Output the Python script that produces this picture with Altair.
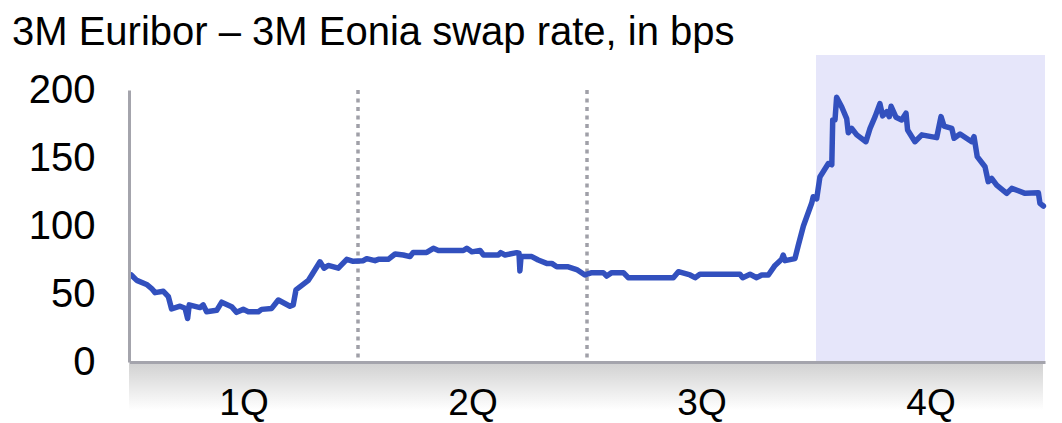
import altair as alt
import pandas as pd

# ---- data (x in quarters from start of year) ----
pos = [0.01, 0.034, 0.077, 0.099, 0.114, 0.150, 0.172, 0.186, 0.223, 0.245, 0.256, 0.263,
       0.310, 0.324, 0.339, 0.383, 0.405, 0.448, 0.470, 0.499, 0.521, 0.565, 0.579, 0.623,
       0.652, 0.703, 0.717, 0.729, 0.783, 0.798, 0.834, 0.852, 0.870, 0.914, 0.951, 0.979,
       1.023, 1.038, 1.074, 1.089, 1.132, 1.162, 1.198, 1.227, 1.241, 1.300, 1.329, 1.351,
       1.460, 1.475, 1.497, 1.533, 1.548, 1.613, 1.623, 1.642, 1.693, 1.703, 1.707, 1.712,
       1.759, 1.787, 1.824, 1.846, 1.868, 1.918, 1.955, 1.991, 2.021, 2.071, 2.086, 2.108,
       2.159, 2.180, 2.377, 2.399, 2.450, 2.472, 2.493, 2.668, 2.680, 2.712, 2.741, 2.763,
       2.792, 2.821, 2.850, 2.857, 2.865, 2.908, 2.923, 2.945, 2.981, 2.988, 3.003, 3.017,
       3.054, 3.069, 3.073, 3.083, 3.090, 3.112, 3.134, 3.141, 3.156, 3.178, 3.218, 3.236,
       3.258, 3.279, 3.291, 3.309, 3.320, 3.328, 3.349, 3.374, 3.393, 3.400, 3.432, 3.462,
       3.527, 3.546, 3.559, 3.593, 3.603, 3.629, 3.680, 3.690, 3.704, 3.738, 3.752, 3.767,
       3.789, 3.833, 3.855, 3.913, 3.971, 3.978, 3.993]
spread = [64, 60, 57, 54, 51, 52, 48, 39, 41, 39.5, 32, 42,
          40, 42, 37, 38, 44, 40.7, 36.5, 38.7, 37, 37, 38.7, 39.4,
          45.6, 41, 42, 53, 60, 64, 73.7, 69, 71, 69, 75.5, 74,
          74.5, 76, 74.5, 75.5, 75.5, 79.4, 78.7, 77.5, 80.6, 80.6, 83.6, 81.9,
          82, 83.6, 81, 82, 78.7, 78.7, 80.4, 78.7, 80.4, 80, 67, 77.5,
          77.5, 75, 72.5, 72.5, 70, 70, 68, 64, 65.7, 65.7, 63.2, 65.7,
          65.7, 62, 62, 66.4, 64, 62, 64.5, 64.5, 62, 64.5, 62, 64,
          64, 71, 75.5, 78.7, 74.5, 76, 86, 100, 116.7, 121.5, 120, 136,
          146, 145, 178, 178, 194.6, 187.7, 179, 168.6, 171.8, 167, 162, 171.8,
          180.4, 190, 181, 184, 180.4, 188, 180, 178, 183, 170.6, 162, 167,
          165, 180.4, 173.5, 171.8, 164.5, 167.6, 162, 165.7, 151, 143.6, 132.6, 135,
          130, 124, 127.7, 124, 124.5, 116.7, 114.7]

quarter_labels = ["1Q", "2Q", "3Q", "4Q"]
quarter_centers = [0.5, 1.5, 2.5, 3.5]
quarter_bounds = [1, 2]
shade_start = [3]
shade_end = [4]
y_ticks = [0, 50, 100, 150, 200]
title_text = "3M Euribor \u2013 3M Eonia swap rate, in bps"

W, H = 916, 272
FONT = "Liberation Sans"
AXIS_COLOR = "#A4A4AC"

label_expr = "datum.value == 0.5 ? '1Q' : datum.value == 1.5 ? '2Q' : datum.value == 2.5 ? '3Q' : '4Q'"

x_scale = alt.Scale(domain=[0, 4], nice=False, zero=False)
x_axis = alt.Axis(values=quarter_centers, labelExpr=label_expr, title=None, ticks=False,
                  grid=False, domainColor=AXIS_COLOR, domainWidth=3, labelFontSize=37,
                  labelFont=FONT, labelColor="#000000", labelPadding=23, zindex=1)
y_axis = alt.Axis(values=y_ticks, title=None, ticks=False, grid=False,
                  domainColor=AXIS_COLOR, domainWidth=3, labelFontSize=40, labelFont=FONT,
                  labelColor="#000000", labelPadding=34, zindex=1)

line_df = pd.DataFrame({"q": pos, "v": spread})
shade_df = pd.DataFrame({"q": shade_start, "q2": shade_end})
bounds_df = pd.DataFrame({"q": quarter_bounds})
one = pd.DataFrame({"a": [0]})

shade = alt.Chart(shade_df).mark_rect(color="#E6E6FA").encode(
    x=alt.X("q:Q", scale=x_scale, axis=x_axis),
    x2="q2:Q",
    y=alt.value(-35),
    y2=alt.value(H - 1),
)

band = alt.Chart(one).mark_rect(
    fill=alt.LinearGradient(
        gradient="linear",
        stops=[alt.GradientStop(color="#D2D2D2", offset=0),
               alt.GradientStop(color="#FFFFFF", offset=1)],
        x1=0, x2=0, y1=0, y2=1,
    )
).encode(x=alt.value(0), x2=alt.value(W - 2), y=alt.value(H + 2), y2=alt.value(H + 48))

rules = alt.Chart(bounds_df).mark_rule(color="#A0A0A8", strokeWidth=3.5,
                                       strokeDash=[4, 4.5]).encode(
    x=alt.X("q:Q", scale=x_scale, axis=x_axis),
    y=alt.value(0),
    y2=alt.value(H - 3),
)

line = alt.Chart(line_df).mark_line(color="#3250BE", strokeWidth=5.5,
                                    strokeJoin="round", strokeCap="round").encode(
    x=alt.X("q:Q", scale=x_scale, axis=x_axis),
    y=alt.Y("v:Q", scale=alt.Scale(domain=[0, 200], nice=False), axis=y_axis),
)

title = alt.Chart(one).mark_text(text=title_text, fontSize=40, font=FONT, align="left",
                                 baseline="alphabetic", color="#000000").encode(
    x=alt.value(-117), y=alt.value(-45))

chart = alt.layer(shade, band, rules, line, title).properties(
    width=W, height=H,
    autosize=alt.AutoSizeParams(type="none"),
    padding={"left": 121, "top": 82, "right": 9, "bottom": 60},
).configure_view(stroke=None)

chart.save("out.html", embed_options={"renderer": "svg", "actions": False})
